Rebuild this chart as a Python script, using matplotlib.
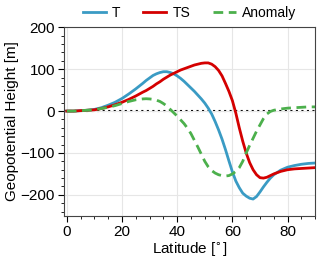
import numpy as np
import matplotlib.pyplot as plt
from matplotlib.ticker import MultipleLocator

plt.rcParams['font.family'] = ['Liberation Sans', 'DejaVu Sans']

lat = ([0, 2.5, 5, 7.5, 10, 12.5, 15, 17.5, 20, 22.5, 25]
       + [27.5 + 1.25 * i for i in range(39)]
       + [77.5, 80, 82.5, 85, 87.5, 90])

T = [0, 0, 1, 2, 4, 8, 14, 21, 30, 41, 53,
     66, 73, 79, 85, 89, 92, 94, 94, 92, 89,
     84, 78, 71, 63, 55, 47, 38, 29, 19, 7,
     -7, -25, -45, -67, -92, -119, -145, -167, -183, -196,
     -203, -208, -210, -204, -193, -181, -170, -160, -152,
     -141, -134, -130, -127, -125, -124]

TS = [0, 0, 1, 2, 3, 6, 10, 15, 21, 28, 36,
      45, 49, 54, 59, 65, 70, 76, 81, 86, 90,
      94, 98, 101, 104, 107, 110, 112, 114, 115, 115,
      112, 106, 97, 84, 66, 47, 25, -5, -40, -72,
      -100, -123, -140, -152, -159, -160, -158, -154, -150,
      -144, -140, -138, -137, -136, -135]

anom = [0, 0, 1, 2, 3, 6, 9, 13, 18, 23, 27,
        29, 29.5, 29, 28, 26, 23, 18, 12, 4, -4,
        -12, -21, -30, -41, -54, -70, -86, -103, -120, -133,
        -142, -148, -152, -154, -155, -154, -150, -144, -135, -120,
        -100, -82, -65, -48, -33, -18, -7, -1, 2,
        5, 7, 8, 9, 10, 10]

fig, ax = plt.subplots(figsize=(3.2, 2.6), dpi=100)
fig.subplots_adjust(left=0.2, right=0.985, top=0.895, bottom=0.17)

ax.plot(lat, T, color='#3a9bc4', lw=2, label='T')
ax.plot(lat, TS, color='#d40000', lw=2, label='TS')
ax.plot(lat, anom, color='#4cb04c', lw=2, ls=(0, (3.5, 2)), label='Anomaly')
ax.axhline(0, color='black', lw=1.5, ls=':', zorder=1)

ax.set_xlim(-1, 90)
ax.set_ylim(-250, 200)
ax.xaxis.set_major_locator(MultipleLocator(20))
ax.xaxis.set_minor_locator(MultipleLocator(5))
ax.yaxis.set_major_locator(MultipleLocator(100))
ax.yaxis.set_minor_locator(MultipleLocator(20))
ax.grid(True, color='#e6e6e6', lw=0.8, zorder=0)
ax.tick_params(labelsize=11, length=4.5, pad=2)
ax.tick_params(which='minor', length=2.5)
for s in ax.spines.values():
    s.set_color('#444444')

ax.set_xlabel('Latitude [$^{\\circ}$]', fontsize=11, labelpad=1)
ax.set_ylabel('Geopotential Height [m]', fontsize=11, labelpad=1)

ax.legend(loc='center', bbox_to_anchor=(0.5, 1.075), ncol=3, frameon=False,
          fontsize=10, handlelength=1.65, columnspacing=1.65, handletextpad=0.45,
          borderaxespad=0, borderpad=0)

fig.savefig('out.png', dpi=100)
